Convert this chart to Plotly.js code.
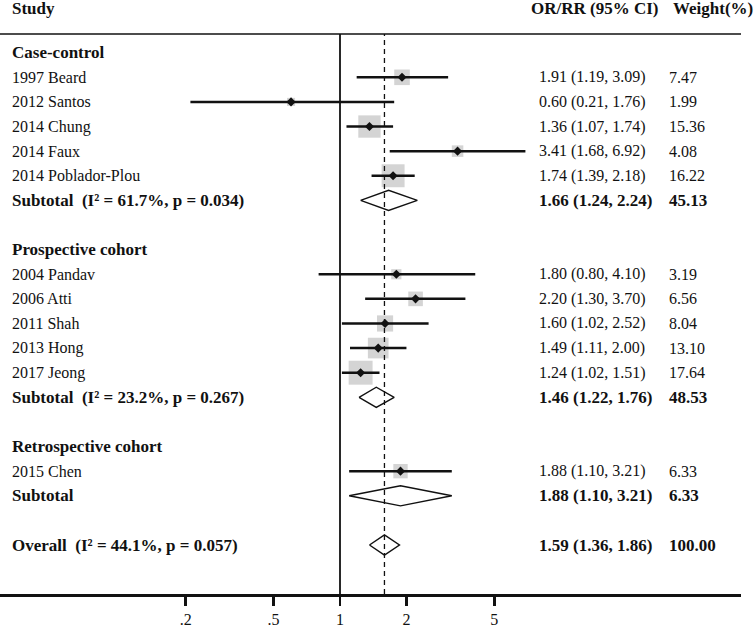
<!DOCTYPE html>
<html><head><meta charset="utf-8">
<script src="https://cdn.plot.ly/plotly-3.0.1.min.js"></script>
<style>html,body{margin:0;padding:0;background:#fff}</style>
</head><body><div id="chart" style="width:755px;height:625px"></div>
<script>
// ---- data ----
const studies = ["1997 Beard","2012 Santos","2014 Chung","2014 Faux","2014 Poblador-Plou",
                 "2004 Pandav","2006 Atti","2011 Shah","2013 Hong","2017 Jeong","2015 Chen"];
const studyGroup = [0,0,0,0,0,1,1,1,1,1,2];
const studyEst  = [1.91,0.60,1.36,3.41,1.74,1.80,2.20,1.60,1.49,1.24,1.88];
const studyLow  = [1.19,0.21,1.07,1.68,1.39,0.80,1.30,1.02,1.11,1.02,1.10];
const studyHigh = [3.09,1.76,1.74,6.92,2.18,4.10,3.70,2.52,2.00,1.51,3.21];
const studyWeight = [7.47,1.99,15.36,4.08,16.22,3.19,6.56,8.04,13.10,17.64,6.33];

const groups = ["Case-control","Prospective cohort","Retrospective cohort"];
const groupHet = ["(I\u00b2 = 61.7%, p = 0.034)","(I\u00b2 = 23.2%, p = 0.267)",""];
const groupEst  = [1.66,1.46,1.88];
const groupLow  = [1.24,1.22,1.10];
const groupHigh = [2.24,1.76,3.21];
const groupWeight = [45.13,48.53,6.33];

const overallLabel = "Overall";
const overallHet = "(I\u00b2 = 44.1%, p = 0.057)";
const overallEst = 1.59, overallLow = 1.36, overallHigh = 1.86, overallWeight = 100.00;

const tickVals = [0.2,0.5,1,2,5];
const tickText = [".2",".5","1","2","5"];

const headers = ["Study","OR/RR (95% CI)","Weight(%)"];

// ---- layout helpers ----
const FONT = "Liberation Serif, Times New Roman, serif";
const FS = 16, FSB = 17;
const TXT = "#111";
const colLabel = 10/755, colEst = 537/755, colW = 667/755;

const annotations = [];
function txt(x, y, s, bold, yref) {
  annotations.push({xref:'paper', yref: yref || 'y', x:x, y:y, xanchor:'left', yanchor:'middle',
    text: bold ? '<b>'+s+'</b>' : s, showarrow:false,
    font:{family:FONT, size: bold ? FSB : FS, color:TXT}});
}
function fmt(e,l,h){ return e.toFixed(2)+' ('+l.toFixed(2)+', '+h.toFixed(2)+')'; }

// rows
const ciX = [], ciY = [], sqX = [], sqY = [], sqS = [];
const diamonds = [];
let r = 1;
groups.forEach((g, gi) => {
  txt(colLabel, r, g, true);
  r++;
  studies.forEach((s, i) => {
    if (studyGroup[i] !== gi) return;
    txt(colLabel, r, s, false);
    txt(colEst, r, fmt(studyEst[i], studyLow[i], studyHigh[i]), false);
    txt(colW, r, studyWeight[i].toFixed(2), false);
    ciX.push(studyLow[i], studyHigh[i], null); ciY.push(r, r, null);
    sqX.push(studyEst[i]); sqY.push(r); sqS.push(5.7*Math.sqrt(studyWeight[i]));
    r++;
  });
  txt(colLabel, r, 'Subtotal' + (groupHet[gi] ? '\u00a0\u00a0' + groupHet[gi] : ''), true);
  txt(colEst, r, fmt(groupEst[gi], groupLow[gi], groupHigh[gi]), true);
  txt(colW, r, groupWeight[gi].toFixed(2), true);
  diamonds.push({e:groupEst[gi], l:groupLow[gi], h:groupHigh[gi], row:r});
  r += 2;
});
txt(colLabel, r, overallLabel + '\u00a0\u00a0' + overallHet, true);
txt(colEst, r, fmt(overallEst, overallLow, overallHigh), true);
txt(colW, r, overallWeight.toFixed(2), true);
diamonds.push({e:overallEst, l:overallLow, h:overallHigh, row:r});

// headers
const headY = 1 - 9/625;
txt(colLabel, headY, headers[0], true, 'paper');
txt(529/755, headY, headers[1], true, 'paper');
txt(671/755, headY, headers[2], true, 'paper');

const traces = [];
traces.push({type:'scatter', mode:'markers', x:sqX, y:sqY, hoverinfo:'skip',
  marker:{symbol:'square', size:sqS, color:'#c2c2c2', line:{width:0}}});
traces.push({type:'scatter', mode:'lines', x:ciX, y:ciY, hoverinfo:'skip',
  line:{color:'#111', width:2.5}});
traces.push({type:'scatter', mode:'markers', x:sqX, y:sqY, hoverinfo:'skip',
  marker:{symbol:'diamond', size:7, color:'#111'}});
const dh = 0.41;
diamonds.forEach(d => {
  traces.push({type:'scatter', mode:'lines', fill:'toself', fillcolor:'#fff', hoverinfo:'skip',
    x:[d.l, d.e, d.h, d.e, d.l], y:[d.row, d.row-dh, d.row, d.row+dh, d.row],
    line:{color:'#111', width:1.4}});
});

const yBot = 1 - 594/625, yTop = 1 - 34/625;
const layout = {
  width:755, height:625, margin:{l:0,r:0,t:0,b:0},
  paper_bgcolor:'#fff', plot_bgcolor:'#fff', showlegend:false,
  xaxis:{type:'log', domain:[0, 741/755], range:[-340/220.7, 401/220.7],
    showline:true, linecolor:'#111', linewidth:2.5, ticks:'outside', ticklen:9, tickwidth:2.5,
    tickcolor:'#111', tickvals:tickVals, ticktext:tickText, showgrid:false, zeroline:false,
    tickfont:{family:FONT, size:FS, color:TXT}, fixedrange:true},
  yaxis:{domain:[yBot, yTop], range:[22.99, 0.241], visible:false, showgrid:false, zeroline:false, fixedrange:true},
  annotations: annotations,
  shapes:[
    {type:'line', xref:'paper', yref:'paper', x0:0, x1:741/755, y0:yTop, y1:yTop, line:{color:'#111', width:1.4}, layer:'above'},
    {type:'line', xref:'x', yref:'paper', x0:1, x1:1, y0:yBot, y1:yTop, line:{color:'#111', width:1.8}, layer:'above'},
    {type:'line', xref:'x', yref:'paper', x0:overallEst, x1:overallEst, y0:yBot, y1:yTop, line:{color:'#111', width:1.3, dash:'5px,4px'}, layer:'above'}
  ]
};
Plotly.newPlot('chart', traces, layout, {displayModeBar:false, staticPlot:true});
</script></body></html>
